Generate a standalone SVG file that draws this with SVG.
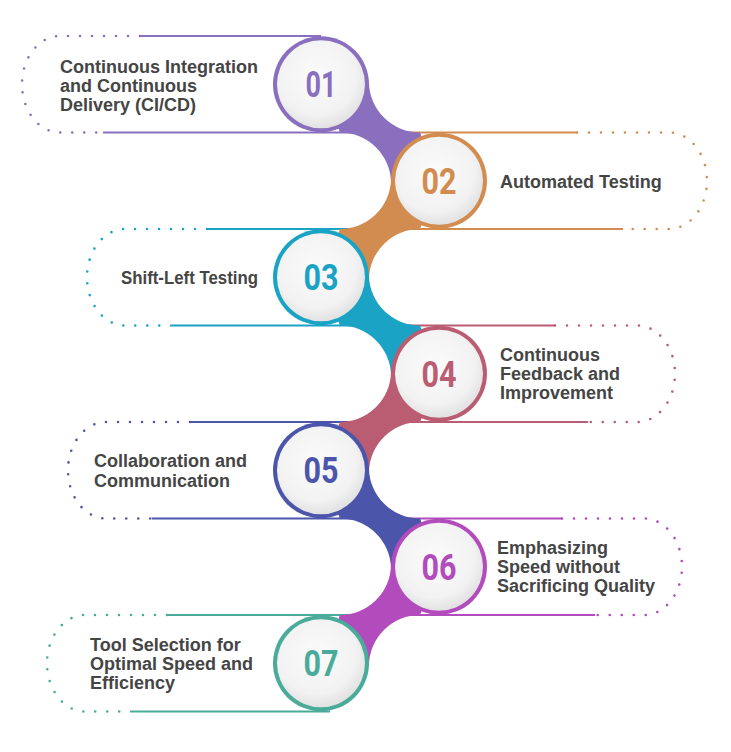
<svg xmlns="http://www.w3.org/2000/svg" width="731" height="752" viewBox="0 0 731 752">
<defs>
<radialGradient id="disk" cx="45%" cy="40%" r="60%">
<stop offset="0" stop-color="#fbfbfb"/>
<stop offset="0.75" stop-color="#f2f2f2"/>
<stop offset="1" stop-color="#e2e2e2"/>
</radialGradient>
<style>
.ln{fill:none;stroke-width:2}
.dt{fill:none;stroke-width:2.6;stroke-linecap:round;stroke-dasharray:0 12}
.inner{fill:url(#disk)}
.num{font-family:Roboto,"Liberation Sans",sans-serif;font-weight:bold;font-size:36px;text-anchor:middle}
.lbl{font-family:"Liberation Sans",Arial,sans-serif;font-weight:bold;font-size:18px;fill:#454545}
.c1{stroke:#8b6fbf}.f1{fill:#8b6fbf}
.c2{stroke:#d38c4f}.f2{fill:#d38c4f}
.c3{stroke:#1aa3c5}.f3{fill:#1aa3c5}
.c4{stroke:#ba5d73}.f4{fill:#ba5d73}
.c5{stroke:#4b56ab}.f5{fill:#4b56ab}
.c6{stroke:#b24bbb}.f6{fill:#b24bbb}
.c7{stroke:#4aab9a}.f7{fill:#4aab9a}
</style>
</defs>
<rect width="731" height="752" fill="#ffffff"/>

<g id="connectors">
<path class="ln c1" d="M140,36 H321 M103,132.5 H380"/>
<path class="ln c2" d="M380,132.5 H577 M380,229 H623"/>
<path class="ln c3" d="M207,229 H360 M170,325.5 H380"/>
<path class="ln c4" d="M380,325.5 H555 M380,422 H588"/>
<path class="ln c5" d="M190,422 H360 M152,518.5 H380"/>
<path class="ln c6" d="M380,518.5 H562 M380,615 H595"/>
<path class="ln c7" d="M167,615 H360 M130,711.5 H330"/>
<path class="dt c1" d="M140,36 H60 A38,48.25 0 0 0 60,132.5 H103"/>
<path class="dt c2" d="M577,132.5 H669 A38,48.25 0 0 1 669,229 H623"/>
<path class="dt c3" d="M207,229 H125 A38,48.25 0 0 0 125,325.5 H170"/>
<path class="dt c4" d="M555,325.5 H637 A38,48.25 0 0 1 637,422 H588"/>
<path class="dt c5" d="M190,422 H106 A38,48.25 0 0 0 106,518.5 H152"/>
<path class="dt c6" d="M562,518.5 H644 A38,48.25 0 0 1 644,615 H595"/>
<path class="dt c7" d="M167,615 H85 A38,48.25 0 0 0 85,711.5 H130"/>
<path class="f1" d="M368.98,82.9 A51.04,51.04 0 0 0 420,132.5 L439,180.75 L391.02,182.1 A51.04,51.04 0 0 0 340,132.5 L321,84.25Z"/>
<path class="f2" d="M391.02,179.4 A51.04,51.04 0 0 1 340,229 L321,277.25 L368.98,278.6 A51.04,51.04 0 0 1 420,229 L439,180.75Z"/>
<path class="f3" d="M368.98,275.9 A51.04,51.04 0 0 0 420,325.5 L439,373.75 L391.02,375.1 A51.04,51.04 0 0 0 340,325.5 L321,277.25Z"/>
<path class="f4" d="M391.02,372.4 A51.04,51.04 0 0 1 340,422 L321,470.25 L368.98,471.6 A51.04,51.04 0 0 1 420,422 L439,373.75Z"/>
<path class="f5" d="M368.98,468.9 A51.04,51.04 0 0 0 420,518.5 L439,566.75 L391.02,568.1 A51.04,51.04 0 0 0 340,518.5 L321,470.25Z"/>
<path class="f6" d="M391.02,565.4 A51.04,51.04 0 0 1 340,615 L321,663.25 L368.98,664.6 A51.04,51.04 0 0 1 420,615 L439,566.75Z"/>
</g>

<g id="node1">
<circle class="f1" cx="321" cy="84.25" r="48"/>
<circle class="inner" cx="321" cy="84.25" r="44"/>
<text class="num f1" x="321" y="97" textLength="31" lengthAdjust="spacingAndGlyphs">01</text>
<text class="lbl" x="60" y="73">Continuous Integration</text>
<text class="lbl" x="60" y="92">and Continuous</text>
<text class="lbl" x="60" y="111">Delivery (CI/CD)</text>
</g>
<g id="node2">
<circle class="f2" cx="439" cy="180.75" r="48"/>
<circle class="inner" cx="439" cy="180.75" r="44"/>
<text class="num f2" x="439" y="193.5" textLength="35" lengthAdjust="spacingAndGlyphs">02</text>
<text class="lbl" x="500" y="187.5">Automated Testing</text>
</g>
<g id="node3">
<circle class="f3" cx="321" cy="277.25" r="48"/>
<circle class="inner" cx="321" cy="277.25" r="44"/>
<text class="num f3" x="321" y="290" textLength="35" lengthAdjust="spacingAndGlyphs">03</text>
<text class="lbl" x="121" y="283.5" textLength="137" lengthAdjust="spacingAndGlyphs">Shift-Left Testing</text>
</g>
<g id="node4">
<circle class="f4" cx="439" cy="373.75" r="48"/>
<circle class="inner" cx="439" cy="373.75" r="44"/>
<text class="num f4" x="439" y="386.5" textLength="35" lengthAdjust="spacingAndGlyphs">04</text>
<text class="lbl" x="500" y="361">Continuous</text>
<text class="lbl" x="500" y="380">Feedback and</text>
<text class="lbl" x="500" y="399">Improvement</text>
</g>
<g id="node5">
<circle class="f5" cx="321" cy="470.25" r="48"/>
<circle class="inner" cx="321" cy="470.25" r="44"/>
<text class="num f5" x="321" y="483" textLength="35" lengthAdjust="spacingAndGlyphs">05</text>
<text class="lbl" x="94" y="467">Collaboration and</text>
<text class="lbl" x="94" y="486.5">Communication</text>
</g>
<g id="node6">
<circle class="f6" cx="439" cy="566.75" r="48"/>
<circle class="inner" cx="439" cy="566.75" r="44"/>
<text class="num f6" x="439" y="579.5" textLength="35" lengthAdjust="spacingAndGlyphs">06</text>
<text class="lbl" x="497" y="554">Emphasizing</text>
<text class="lbl" x="497" y="573">Speed without</text>
<text class="lbl" x="497" y="592">Sacrificing Quality</text>
</g>
<g id="node7">
<circle class="f7" cx="321" cy="663.25" r="48"/>
<circle class="inner" cx="321" cy="663.25" r="44"/>
<text class="num f7" x="321" y="676" textLength="35" lengthAdjust="spacingAndGlyphs">07</text>
<text class="lbl" x="90" y="650.5">Tool Selection for</text>
<text class="lbl" x="90" y="669.75">Optimal Speed and</text>
<text class="lbl" x="90" y="689">Efficiency</text>
</g>
</svg>
